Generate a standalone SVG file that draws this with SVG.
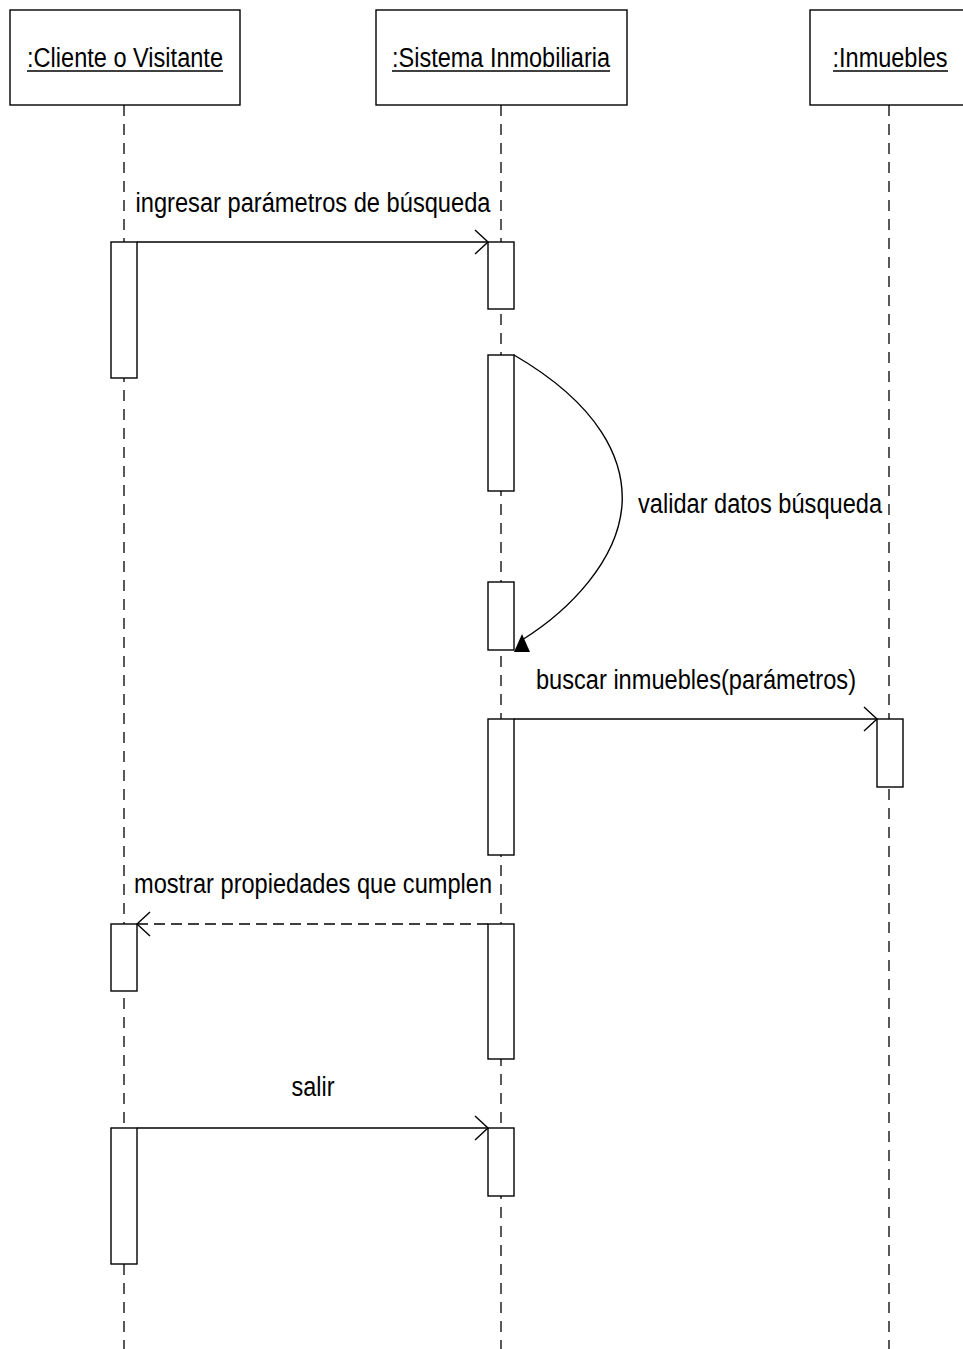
<svg xmlns="http://www.w3.org/2000/svg" width="963" height="1349" viewBox="0 0 963 1349">
<style>
.box{fill:#fff;stroke:#000;stroke-width:1.4}
.life{stroke:#000;stroke-width:1.3;stroke-dasharray:11 8;fill:none}
.act{fill:#fff;stroke:#000;stroke-width:1.4}
.msg{stroke:#000;stroke-width:1.4;fill:none}
.ret{stroke:#000;stroke-width:1.4;fill:none;stroke-dasharray:11 6}
.t{font-family:"Liberation Sans",Arial,sans-serif;font-size:27px;fill:#000}
.u{stroke:#000;stroke-width:1.4}
</style>
<defs>
<marker id="open" markerWidth="16" markerHeight="26" refX="14" refY="13" orient="auto" markerUnits="userSpaceOnUse">
<path d="M1,1 L14,13 L1,25" fill="none" stroke="#000" stroke-width="1.4"/>
</marker>
</defs>
<g id="lifelines">
<line class="life" x1="124" y1="105" x2="124" y2="1349"/>
<line class="life" x1="501" y1="105" x2="501" y2="1349"/>
<line class="life" x1="889" y1="105" x2="889" y2="1349"/>
</g>
<g id="cliente">
<rect class="box" x="10" y="10" width="230" height="95"/>
<text class="t" x="125" y="67" text-anchor="middle" textLength="196" lengthAdjust="spacingAndGlyphs">:Cliente o Visitante</text>
<line class="u" x1="27" y1="71" x2="223" y2="71"/>
</g>
<g id="sistema">
<rect class="box" x="376" y="10" width="251" height="95"/>
<text class="t" x="501" y="67" text-anchor="middle" textLength="218" lengthAdjust="spacingAndGlyphs">:Sistema Inmobiliaria</text>
<line class="u" x1="392" y1="71" x2="610" y2="71"/>
</g>
<g id="inmuebles">
<rect class="box" x="810" y="10" width="160" height="95"/>
<text class="t" x="890" y="67" text-anchor="middle" textLength="115" lengthAdjust="spacingAndGlyphs">:Inmuebles</text>
<line class="u" x1="833" y1="71" x2="948" y2="71"/>
</g>
<g id="activations">
<rect class="act" x="111" y="242" width="26" height="136"/>
<rect class="act" x="488" y="242" width="26" height="67"/>
<rect class="act" x="488" y="355" width="26" height="136"/>
<rect class="act" x="488" y="582" width="26" height="68"/>
<rect class="act" x="877" y="719" width="26" height="68"/>
<rect class="act" x="488" y="719" width="26" height="136"/>
<rect class="act" x="111" y="924" width="26" height="67"/>
<rect class="act" x="488" y="924" width="26" height="135"/>
<rect class="act" x="111" y="1128" width="26" height="136"/>
<rect class="act" x="488" y="1128" width="26" height="68"/>
</g>
<g id="connectors">
<line class="msg" x1="137" y1="242" x2="488" y2="242" marker-end="url(#open)"/>
<path class="msg" d="M514,355 C600,405 625,460 622,505 C618,560 570,610 522,640"/>
<polygon points="522,634 514,652 530,652" fill="#000"/>
<line class="msg" x1="514" y1="719" x2="877" y2="719" marker-end="url(#open)"/>
<line class="ret" x1="488" y1="924" x2="137" y2="924" marker-end="url(#open)"/>
<line class="msg" x1="137" y1="1128" x2="488" y2="1128" marker-end="url(#open)"/>
</g>
<g id="labels">
<text class="t" x="313" y="212" text-anchor="middle" textLength="355" lengthAdjust="spacingAndGlyphs">ingresar parámetros de búsqueda</text>
<text class="t" x="760" y="513" text-anchor="middle" textLength="244" lengthAdjust="spacingAndGlyphs">validar datos búsqueda</text>
<text class="t" x="696" y="689" text-anchor="middle" textLength="320" lengthAdjust="spacingAndGlyphs">buscar inmuebles(parámetros)</text>
<text class="t" x="313" y="893" text-anchor="middle" textLength="358" lengthAdjust="spacingAndGlyphs">mostrar propiedades que cumplen</text>
<text class="t" x="313" y="1096" text-anchor="middle" textLength="43" lengthAdjust="spacingAndGlyphs">salir</text>
</g>
</svg>
